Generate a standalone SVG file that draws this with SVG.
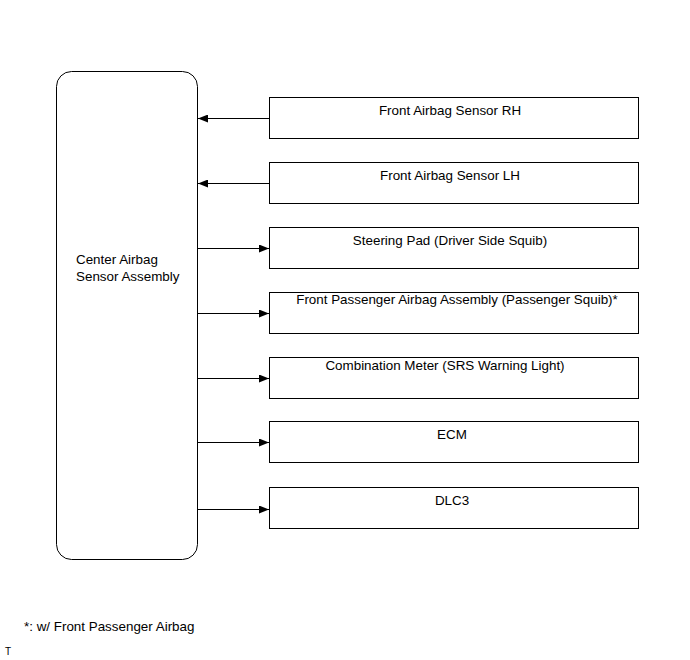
<svg xmlns="http://www.w3.org/2000/svg" width="690" height="660" viewBox="0 0 690 660">
<style>
.b{fill:#fff;stroke:#000;stroke-width:1}
.t{font-family:"Liberation Sans",Arial,sans-serif;font-size:13.4px;fill:#000}
.m{text-anchor:middle}
.c{stroke:#000;stroke-width:1;fill:none}
</style>
<defs>
<marker id="a" markerWidth="10" markerHeight="8" refX="10" refY="4" orient="auto" markerUnits="userSpaceOnUse">
<path d="M0,0 L10,4 L0,8 Z" fill="#000"/>
</marker>
</defs>
<rect width="690" height="660" fill="#fff"/>
<g id="center">
<rect class="b" x="56.5" y="71.5" width="141" height="488" rx="15"/>
<text class="t" x="76" y="264">Center Airbag</text>
<text class="t" x="76" y="281">Sensor Assembly</text>
</g>
<g id="n1"><rect class="b" x="269.5" y="97.5" width="369" height="41"/><text class="t m" x="450" y="115">Front Airbag Sensor RH</text></g>
<g id="n2"><rect class="b" x="269.5" y="162.5" width="369" height="41"/><text class="t m" x="450" y="180">Front Airbag Sensor LH</text></g>
<g id="n3"><rect class="b" x="269.5" y="227.5" width="369" height="41"/><text class="t m" x="450" y="245">Steering Pad (Driver Side Squib)</text></g>
<g id="n4"><rect class="b" x="269.5" y="292.5" width="369" height="41"/><text class="t m" x="457" y="304">Front Passenger Airbag Assembly (Passenger Squib)*</text></g>
<g id="n5"><rect class="b" x="269.5" y="357.5" width="369" height="41"/><text class="t m" x="445" y="370">Combination Meter (SRS Warning Light)</text></g>
<g id="n6"><rect class="b" x="269.5" y="421.5" width="369" height="41"/><text class="t m" x="452" y="439">ECM</text></g>
<g id="n7"><rect class="b" x="269.5" y="487.5" width="369" height="41"/><text class="t m" x="452" y="505">DLC3</text></g>
<g id="connectors">
<line class="c" x1="269" y1="118.5" x2="198" y2="118.5" marker-end="url(#a)"/>
<line class="c" x1="269" y1="183.5" x2="198" y2="183.5" marker-end="url(#a)"/>
<line class="c" x1="198" y1="248.5" x2="269" y2="248.5" marker-end="url(#a)"/>
<line class="c" x1="198" y1="313.5" x2="269" y2="313.5" marker-end="url(#a)"/>
<line class="c" x1="198" y1="378.5" x2="269" y2="378.5" marker-end="url(#a)"/>
<line class="c" x1="198" y1="442.5" x2="269" y2="442.5" marker-end="url(#a)"/>
<line class="c" x1="198" y1="509.5" x2="269" y2="509.5" marker-end="url(#a)"/>
</g>
<text class="t" x="24" y="631">*: w/ Front Passenger Airbag</text>
<text class="t" x="5" y="655" style="font-size:10px">T</text>
</svg>
